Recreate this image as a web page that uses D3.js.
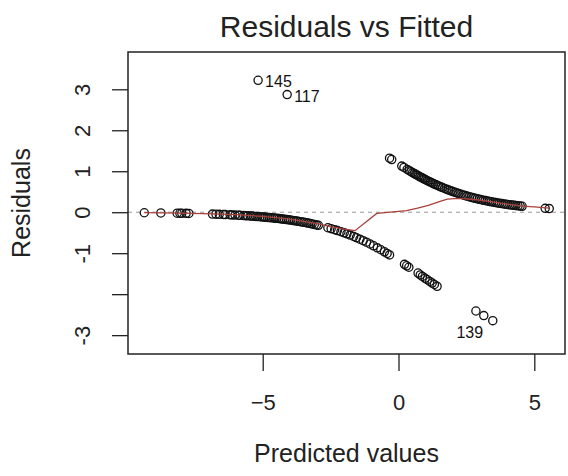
<!DOCTYPE html>
<html>
<head>
<meta charset="utf-8">
<script src="https://cdn.jsdelivr.net/npm/d3@7"></script>
<style>
  body { margin: 0; background: #fff; }
  svg { display: block; font-family: "Liberation Sans", Arial, sans-serif; }
</style>
</head>
<body>
<svg width="568" height="476"></svg>
<script>
// observations with response 0 (lower branch)
const lowX = [-9.36, -8.75, -8.15, -8.05, -7.98, -7.82, -7.72,
  -6.85, -6.72, -6.6, -6.45, -6.38, -6.2, -6.12, -6.02, -5.9, -5.84, -5.7, -5.62, -5.55,
  -5.46, -5.4, -5.33, -5.25, -5.18, -5.1, -5.02, -4.95, -4.9, -4.82, -4.75, -4.68, -4.6,
  -4.55, -4.48, -4.4, -4.33, -4.27, -4.2, -4.12, -4.05, -3.98, -3.9, -3.84, -3.76, -3.7,
  -3.62, -3.55, -3.48, -3.4, -3.33, -3.25, -3.18, -3.1, -3.02, -2.95,
  -2.6, -2.48, -2.35, -2.25, -2.12, -2.0, -1.9, -1.78, -1.65, -1.55, -1.42, -1.3, -1.18,
  -1.05, -0.92, -0.78, -0.65, -0.52, -0.42, -0.33,
  0.22, 0.3, 0.38, 0.72, 0.8, 0.88, 0.98, 1.06, 1.15, 1.24, 1.32, 1.42,
  2.85, 3.14, 3.47];
const lowY = [-0.013, -0.018, -0.024, -0.025, -0.026, -0.028, -0.03,
  -0.046, -0.049, -0.052, -0.056, -0.058, -0.064, -0.066, -0.07, -0.074, -0.076, -0.082, -0.085, -0.088,
  -0.092, -0.095, -0.098, -0.102, -0.106, -0.11, -0.115, -0.119, -0.122, -0.127, -0.131, -0.136, -0.141,
  -0.145, -0.15, -0.156, -0.162, -0.167, -0.173, -0.18, -0.186, -0.192, -0.2, -0.206, -0.214, -0.221,
  -0.23, -0.238, -0.246, -0.256, -0.265, -0.276, -0.285, -0.297, -0.309, -0.319,
  -0.379, -0.401, -0.427, -0.448, -0.476, -0.504, -0.528, -0.558, -0.592, -0.621, -0.658, -0.695, -0.732,
  -0.775, -0.819, -0.869, -0.916, -0.966, -1.005, -1.041,
  -1.272, -1.307, -1.343, -1.485, -1.53, -1.567, -1.612, -1.648, -1.688, -1.729, -1.764, -1.809,
  -2.411, -2.523, -2.646];

// observations with response 1 (upper branch)
const highX = [-0.33, -0.25, 0.12, 0.2, 0.32, 0.4, 0.46, 0.52, 0.58, 0.63, 0.68, 0.74, 0.79,
  0.84, 0.9, 0.95, 1.0, 1.06, 1.12, 1.18, 1.24, 1.3, 1.36, 1.42, 1.48, 1.55, 1.62, 1.7,
  1.78, 1.85, 1.93, 2.0, 2.08, 2.15, 2.22, 2.3, 2.38, 2.45, 2.52, 2.6, 2.68, 2.75, 2.82,
  2.9, 2.98, 3.05, 3.12, 3.2, 3.28, 3.35, 3.42, 3.5, 3.58, 3.65, 3.72, 3.8, 3.88, 3.95,
  4.02, 4.1, 4.18, 4.25, 4.32, 4.4, 4.48, 4.55, 5.4, 5.55];
const highY = [1.32, 1.285, 1.126, 1.093, 1.045, 1.013, 0.989, 0.966, 0.943, 0.924, 0.906, 0.884, 0.865,
  0.848, 0.826, 0.809, 0.792, 0.771, 0.751, 0.732, 0.713, 0.694, 0.676, 0.658, 0.641, 0.621, 0.601, 0.579,
  0.558, 0.54, 0.521, 0.504, 0.486, 0.47, 0.454, 0.437, 0.421, 0.407, 0.393, 0.379, 0.364, 0.352, 0.34,
  0.327, 0.315, 0.304, 0.294, 0.283, 0.272, 0.263, 0.254, 0.244, 0.235, 0.227, 0.219, 0.21, 0.202, 0.195,
  0.189, 0.181, 0.174, 0.169, 0.162, 0.156, 0.15, 0.145, 0.095, 0.088];

// flagged points
const outX = [-5.17, -4.10];
const outY = [3.22, 2.87];
const labelNames = ["145", "117", "139"];
const labelX = [-5.17, -4.10, 3.14];
const labelY = [3.22, 2.87, -2.523];

// smoother (red line)
const smoothX = [-9.36, -8.0, -6.8, -6.0, -5.0, -4.0, -3.0, -2.5, -2.0, -1.6, -1.2, -0.8, -0.3,
  0.3, 0.7, 1.1, 1.5, 1.8, 2.2, 2.8, 3.4, 4.0, 4.55, 5.0, 5.55];
const smoothY = [-0.01, -0.02, -0.04, -0.06, -0.1, -0.17, -0.28, -0.35, -0.41, -0.45, -0.24, -0.03, 0.0,
  0.04, 0.1, 0.17, 0.26, 0.32, 0.34, 0.31, 0.26, 0.2, 0.15, 0.13, 0.1];

const xTicks = [-5, 0, 5];
const yTicks = [-3, -2, -1, 0, 1, 2, 3];
const yTickLabels = ["-3", "", "-1", "0", "1", "2", "3"];

const svg = d3.select("svg");
const margin = { top: 52, right: 3, bottom: 122, left: 128 };
const width = +svg.attr("width") - margin.left - margin.right;
const height = +svg.attr("height") - margin.top - margin.bottom;
const chart = svg.append("g").attr("transform", `translate(${margin.left},${margin.top})`);

const x = d3.scaleLinear().domain([-9.96, 6.13]).range([0, width]);
const y = d3.scaleLinear().domain([-3.46, 3.91]).range([height, 0]);

// x axis
const xAxis = chart.append("g")
  .attr("transform", `translate(0,${height})`)
  .call(d3.axisBottom(x).tickValues(xTicks).tickSize(17).tickPadding(23).tickFormat(d3.format("d")));
xAxis.select(".domain").remove();
xAxis.selectAll("line").attr("stroke", "#222").attr("stroke-width", 1.3);
xAxis.selectAll("text").attr("font-size", 22).attr("fill", "#222")
  .attr("font-family", "Liberation Sans, Arial, sans-serif");

// y axis, labels parallel to the axis
const yAxis = chart.append("g")
  .call(d3.axisLeft(y).tickValues(yTicks).tickSize(16).tickFormat((d, i) => yTickLabels[i]));
yAxis.select(".domain").remove();
yAxis.selectAll("line").attr("stroke", "#222").attr("stroke-width", 1.3);
yAxis.selectAll("text")
  .attr("x", null).attr("dy", null)
  .attr("text-anchor", "middle")
  .attr("transform", "translate(-38,0) rotate(-90)")
  .attr("font-size", 22).attr("fill", "#222")
  .attr("font-family", "Liberation Sans, Arial, sans-serif");

// zero reference line
chart.append("line")
  .attr("x1", 0).attr("x2", width)
  .attr("y1", y(0)).attr("y2", y(0))
  .attr("stroke", "#999")
  .attr("stroke-dasharray", "4,4");

// points
const pts = lowX.map((v, i) => [v, lowY[i]])
  .concat(highX.map((v, i) => [v, highY[i]]))
  .concat(outX.map((v, i) => [v, outY[i]]));

chart.selectAll(".pt")
  .data(pts)
  .enter()
  .append("circle")
  .attr("class", "pt")
  .attr("cx", d => x(d[0]))
  .attr("cy", d => y(d[1]))
  .attr("r", 4.1)
  .attr("fill", "none")
  .attr("stroke", "#111")
  .attr("stroke-width", 1.3);

// smoother
chart.append("path")
  .datum(smoothX.map((v, i) => [v, smoothY[i]]))
  .attr("fill", "none")
  .attr("stroke", "#a8403c")
  .attr("stroke-width", 1.3)
  .attr("d", d3.line().x(d => x(d[0])).y(d => y(d[1])));

// point labels
const labelDx = [7, 7, -14];
const labelDy = [7, 7.5, 22];
const labelAnchor = ["start", "start", "middle"];
chart.selectAll(".lab")
  .data(labelNames)
  .enter()
  .append("text")
  .attr("class", "lab")
  .attr("x", (d, i) => x(labelX[i]) + labelDx[i])
  .attr("y", (d, i) => y(labelY[i]) + labelDy[i])
  .attr("text-anchor", (d, i) => labelAnchor[i])
  .attr("font-size", 16)
  .attr("fill", "#111")
  .text(d => d);

// frame
chart.append("rect")
  .attr("width", width).attr("height", height)
  .attr("fill", "none")
  .attr("stroke", "#222")
  .attr("stroke-width", 1.5);

// title
svg.append("text")
  .attr("x", margin.left + width / 2)
  .attr("y", 37)
  .attr("text-anchor", "middle")
  .attr("font-size", 30)
  .attr("fill", "#222")
  .text("Residuals vs Fitted");

// axis titles
svg.append("text")
  .attr("x", margin.left + width / 2)
  .attr("y", 462)
  .attr("text-anchor", "middle")
  .attr("font-size", 25)
  .attr("fill", "#222")
  .text("Predicted values");

svg.append("text")
  .attr("transform", `translate(30,${margin.top + height / 2}) rotate(-90)`)
  .attr("text-anchor", "middle")
  .attr("font-size", 25)
  .attr("fill", "#222")
  .text("Residuals");
</script>
</body>
</html>
